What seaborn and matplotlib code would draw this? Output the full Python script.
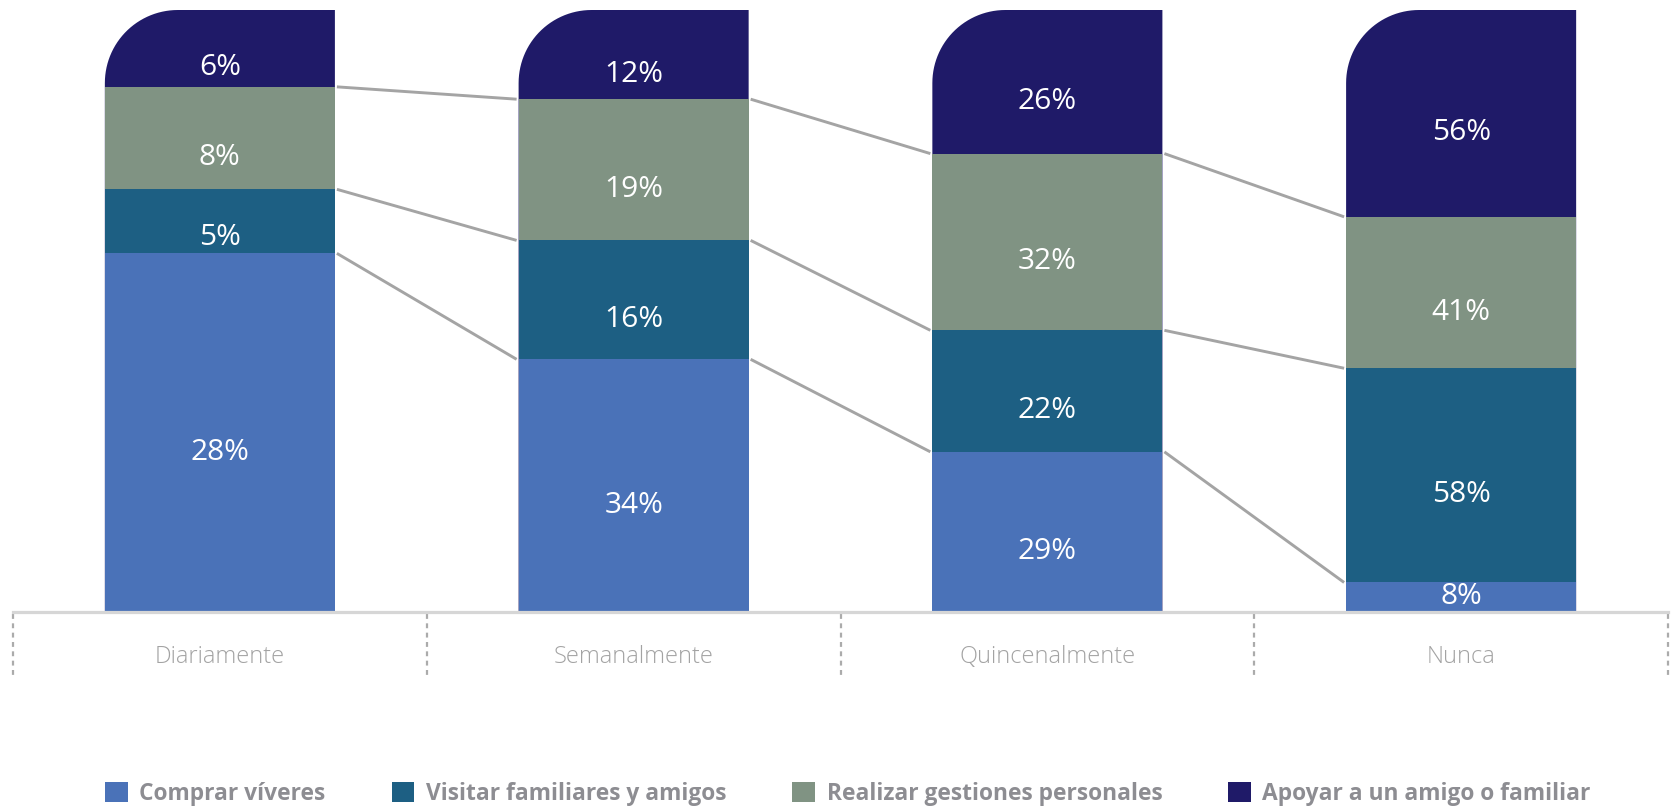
import numpy as np
import pandas as pd
import seaborn as sns
import matplotlib
matplotlib.use("Agg")
import matplotlib.pyplot as plt
from matplotlib.path import Path
from matplotlib.patches import PathPatch, Patch
from matplotlib import font_manager

# --- data -------------------------------------------------------------
categories = ["Diariamente", "Semanalmente", "Quincenalmente", "Nunca"]
series_names = ["Comprar víveres", "Visitar familiares y amigos",
                "Realizar gestiones personales", "Apoyar a un amigo o familiar"]
comprar = [28, 34, 29, 8]
visitar = [5, 16, 22, 58]
realizar = [8, 19, 32, 41]
apoyar = [6, 12, 26, 56]

colors = ["#4a72b8", "#1d5f83", "#809383", "#1f1a68"]

# --- style ------------------------------------------------------------
sns.set_theme(style="white")
plt.rcParams["font.family"] = ["Open Sans", "DejaVu Sans"]
installed = {f.name for f in font_manager.fontManager.ttflist}
legend_family = ["Liberation Sans Narrow", "DejaVu Sans"] if "Liberation Sans Narrow" in installed \
    else ["Open Sans", "DejaVu Sans"]

W, H = 1679, 809
fig = plt.figure(figsize=(W / 100, H / 100), dpi=100)
ax_left, ax_right, ax_top, ax_bottom = 13, 1668, 10, 612
ax = fig.add_axes([ax_left / W, (H - ax_bottom) / H,
                   (ax_right - ax_left) / W, (ax_bottom - ax_top) / H])

# each column is shown as shares of its own total
values = np.array([comprar, visitar, realizar, apoyar], dtype=float)
shares = values / values.sum(axis=0) * 100
cum = np.cumsum(shares, axis=0)           # tops of each segment
bottoms = np.vstack([np.zeros(len(categories)), cum[:-1]])

df = pd.DataFrame({"categoria": categories})
for k, name in enumerate(series_names):
    df[name] = cum[k]

bar_width = 0.556
px_x = (ax_right - ax_left) / 4.0      # pixels per x unit
px_y = (ax_bottom - ax_top) / 100.0    # pixels per y unit
radius_px = 73
rx, ry = radius_px / px_x, radius_px / px_y

# draw stacked bars from the tallest cumulative layer down
for k in reversed(range(len(series_names))):
    sns.barplot(data=df, x="categoria", y=series_names[k], order=categories,
                color=colors[k], saturation=1, width=bar_width, linewidth=0,
                ax=ax)
    if k == len(series_names) - 1:
        # give the top segment a rounded upper-left corner
        for p in list(ax.patches):
            x0, w, h = p.get_x(), p.get_width(), p.get_height()
            x1 = x0 + w
            p.remove()
            theta = np.linspace(np.pi / 2, np.pi, 30)
            arc = np.column_stack([x0 + rx + rx * np.cos(theta),
                                   h - ry + ry * np.sin(theta)])
            verts = np.vstack([[x0, 0], [x1, 0], [x1, h], arc, [x0, 0]])
            codes = [Path.MOVETO] + [Path.LINETO] * (len(verts) - 2) + [Path.CLOSEPOLY]
            ax.add_patch(PathPatch(Path(verts, codes), facecolor=colors[k],
                                   edgecolor="none", zorder=1))

# connector lines between segment boundaries of neighbouring bars
gap = 2 / px_x
for k in range(len(series_names) - 1):
    for i in range(len(categories) - 1):
        ax.plot([i + bar_width / 2 + gap, i + 1 - bar_width / 2 - gap],
                [cum[k, i], cum[k, i + 1]],
                color="#a4a4a4", lw=2.1, solid_capstyle="butt", zorder=2)

# value labels
for k in range(len(series_names)):
    for i in range(len(categories)):
        mid = (bottoms[k, i] + cum[k, i]) / 2
        base = max(mid - 27 / px_y, bottoms[k, i] + 8 / px_y)
        ax.text(i, base, f"{values[k, i]:.0f}%", ha="center", va="baseline",
                color="white", fontsize=21.5, zorder=3)

# axis styling
ax.set_xlim(-0.5, len(categories) - 0.5)
ax.set_ylim(0, 100)
ax.set_yticks([])
ax.set_xlabel("")
ax.set_ylabel("")
for side in ["left", "right", "top"]:
    ax.spines[side].set_visible(False)
ax.spines["bottom"].set_color("#d6d6d6")
ax.spines["bottom"].set_linewidth(2.3)
ax.set_xticks(range(len(categories)))
ax.set_xticklabels(categories, color="#a3a3a3", fontsize=17, fontweight="light")
ax.tick_params(axis="x", length=0, pad=24)

# dotted separators between category slots
for b in np.arange(-0.5, len(categories), 1.0):
    ax.plot([b, b], [-0.3, -65 / px_y], color="#ababab", lw=1.6,
            linestyle=(0, (2.2, 2.0)), clip_on=False, zorder=0)

# legend
handles = [Patch(facecolor=c, edgecolor="none") for c in colors]
leg = fig.legend(handles, series_names, loc="center",
                 bbox_to_anchor=(848 / W, (H - 794) / H), ncol=4, frameon=False,
                 handlelength=1.0, handleheight=1.0, handletextpad=0.5,
                 columnspacing=2.9,
                 prop=dict(family=legend_family, weight="bold", size=16.4))
for t in leg.get_texts():
    t.set_color("#8d8d92")

fig.savefig("out.png", dpi=100)
